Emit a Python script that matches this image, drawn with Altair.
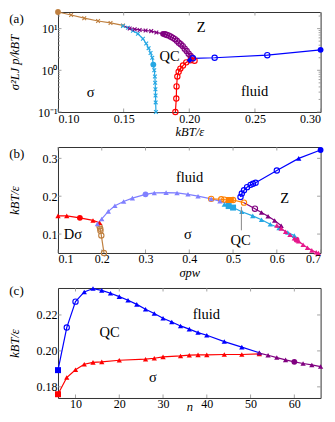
import altair as alt
import pandas as pd

FONT = "Liberation Serif"

# ---------------- panel (a) ----------------
a_brown_x = [0.100, 0.110, 0.120, 0.1305, 0.140, 0.1495]
a_brown_y = [25.0, 21.2, 17.8, 15.2, 13.7, 11.9]
a_brown_m = ["fc", "x", "x", "x", "x", "x"]

a_cyan_x = [0.1495, 0.1533, 0.1571, 0.1609, 0.1647, 0.1672, 0.1690, 0.1705, 0.1718,
            0.1726, 0.1733, 0.1738, 0.1740, 0.1742, 0.1743, 0.1744, 0.1746]
a_cyan_y = [11.5, 10.5, 8.9, 7.5, 5.7, 4.4, 3.4, 2.6, 2.0, 1.37, 1.0, 0.71, 0.5, 0.35, 0.25, 0.17, 0.1]
a_cyan_m = ["x", "x", "x", "x", "x", "x", "x", "x", "x", "fc", "x", "x", "x", "x", "x", "x", "x"]

a_purple_x = [0.1495, 0.1546, 0.1584, 0.1622, 0.1667, 0.1710, 0.1749, 0.1800, 0.1815, 0.1830,
              0.1845, 0.1860, 0.1875, 0.1890, 0.1905, 0.1920, 0.1935, 0.1950, 0.1965, 0.1980,
              0.1995, 0.2010, 0.2020]
a_purple_y = [11.9, 10.0, 9.7, 9.3, 9.0, 8.7, 8.1, 7.5, 7.3, 7.0, 6.8, 6.4, 6.0, 5.6, 5.1, 4.6,
              4.2, 3.8, 3.3, 2.9, 2.5, 2.2, 2.0]
a_purple_m = ["none", "x", "x", "x", "x", "x", "x", "fc", "oc", "oc", "oc", "oc", "oc", "oc", "oc",
              "oc", "oc", "oc", "oc", "oc", "oc", "oc", "oc"]

a_red_x = [0.1894, 0.1901, 0.1903, 0.1909, 0.1919, 0.1932, 0.1952, 0.1977, 0.2010, 0.2040]
a_red_y = [0.1, 0.21, 0.41, 0.71, 0.92, 1.1, 1.3, 1.55, 1.74, 1.7]
a_red_m = ["oc"] * 10

a_blue_x = [0.2003, 0.2028, 0.2193, 0.2594, 0.300]
a_blue_y = [1.75, 1.94, 2.0, 2.3, 3.1]
a_blue_m = ["fd", "oc", "oc", "oc", "fc"]

a_text = ["Z", "QC", "σ", "fluid"]
a_text_x = [0.209, 0.185, 0.1248, 0.2498]
a_text_y = [10.5, 2.1, 0.285, 0.295]

a_xticks = [0.10, 0.15, 0.20, 0.25, 0.30]
a_yticks = [0.1, 1, 10]
a_yminor = [0.2, 0.3, 0.4, 0.5, 0.6, 0.7, 0.8, 0.9, 2, 3, 4, 5, 6, 7, 8, 9, 20]

# ---------------- panel (b) ----------------
b_red_x = [0.10, 0.12, 0.15, 0.18, 0.195]
b_red_y = [0.148, 0.148, 0.143, 0.136, 0.130]
b_red_m = ["t", "t", "fc", "t", "t"]

b_brown_x = [0.193, 0.195, 0.1966, 0.197, 0.199, 0.205]
b_brown_y = [0.127, 0.120, 0.114, 0.1086, 0.0963, 0.050]
b_brown_m = ["none", "oc", "oc", "oc", "oc", "oc"]

b_peri_x = [0.19, 0.20, 0.215, 0.23, 0.25, 0.27, 0.30, 0.32, 0.347, 0.372, 0.397, 0.42, 0.45, 0.47, 0.49]
b_peri_y = [0.127, 0.140, 0.160, 0.175, 0.186, 0.195, 0.205, 0.2086, 0.2094, 0.2086, 0.205, 0.200,
            0.193, 0.187, 0.180]
b_peri_m = ["t", "t", "t", "t", "t", "t", "fc", "t", "t", "t", "t", "t", "t", "t", "t"]

b_orange_x = [0.45, 0.473, 0.48, 0.49, 0.495, 0.50, 0.525]
b_orange_y = [0.193, 0.192, 0.191, 0.190, 0.190, 0.190, 0.183]
b_orange_m = ["oc", "oc", "oc", "fs", "fs", "oc", "oc"]

b_cyan_x = [0.48, 0.49, 0.50, 0.52, 0.545, 0.565, 0.585, 0.605, 0.625, 0.64]
b_cyan_y = [0.178, 0.174, 0.170, 0.159, 0.148, 0.138, 0.126, 0.116, 0.104, 0.096]
b_cyan_m = ["t", "fs", "fs", "t", "t", "t", "t", "t", "t", "t"]

b_blue_x = [0.517, 0.52, 0.525, 0.532, 0.54, 0.5455, 0.5515, 0.60, 0.65, 0.70]
b_blue_y = [0.198, 0.207, 0.2157, 0.224, 0.230, 0.233, 0.2355, 0.268, 0.300, 0.322]
b_blue_m = ["oc", "oc", "oc", "oc", "oc", "oc", "oc", "oc", "t", "fc"]

b_purple_x = [0.525, 0.55, 0.565, 0.58, 0.595, 0.61]
b_purple_y = [0.183, 0.167, 0.157, 0.147, 0.136, 0.122]
b_purple_m = ["none", "oc", "t", "t", "t", "t"]

b_magenta_x = [0.60, 0.61, 0.62, 0.63, 0.64, 0.645, 0.65, 0.66, 0.67, 0.68, 0.69, 0.695]
b_magenta_y = [0.123, 0.115, 0.106, 0.098, 0.089, 0.085, 0.081, 0.072, 0.064, 0.057, 0.052, 0.050]
b_magenta_m = ["t", "t", "t", "t", "t", "fc", "t", "t", "t", "t", "t", "t"]

b_text = ["fluid", "Z", "Dσ", "σ", "QC"]
b_text_x = [0.4007, 0.6177, 0.134, 0.397, 0.517]
b_text_y = [0.2478, 0.192, 0.0964, 0.098, 0.083]
b_pointer_x = [0.519]
b_pointer_y = [0.172]
b_pointer_y2 = [0.110]

b_xticks = [0.1, 0.2, 0.3, 0.4, 0.5, 0.6, 0.7]
b_yticks = [0.1, 0.2, 0.3]

# ---------------- panel (c) ----------------
c_blue_x = [6, 8, 10, 12, 14, 16, 18, 20, 22, 24, 26, 28, 30, 32, 34, 36, 38, 40, 44, 48, 52]
c_blue_y = [0.1893, 0.213, 0.2274, 0.2328, 0.2347, 0.2337, 0.2321, 0.2302, 0.2282, 0.2259, 0.2232,
            0.2208, 0.2182, 0.2161, 0.2139, 0.2121, 0.2102, 0.2087, 0.2052, 0.2021, 0.1990]
c_blue_m = ["fs", "oc", "oc"] + ["t"] * 18

c_red_x = [6, 8, 10, 12, 14, 16, 20, 26, 28, 30, 34, 36, 38, 40, 44, 48, 52]
c_red_y = [0.1759, 0.1852, 0.1895, 0.1926, 0.1936, 0.1939, 0.1948, 0.1954, 0.1959, 0.1967, 0.1972,
           0.1976, 0.1978, 0.1978, 0.1980, 0.1980, 0.1983]
c_red_m = ["fs"] + ["t"] * 16

c_purple_x = [52, 54, 56, 58, 60, 62, 64, 66]
c_purple_y = [0.1988, 0.1976, 0.1963, 0.1950, 0.1939, 0.1930, 0.1922, 0.1913]
c_purple_m = ["t", "t", "t", "t", "fc", "t", "t", "t"]

c_text = ["QC", "fluid", "σ"]
c_text_x = [17.8, 39.9, 27.7]
c_text_y = [0.2102, 0.2200, 0.1847]

c_xticks = [10, 20, 30, 40, 50, 60]
c_yticks = [0.18, 0.20, 0.22]

panel_tags = ["(a)", "(b)", "(c)"]

series_names = ["brown", "cyan", "purple", "red", "blue", "peri", "orange", "magenta"]
series_colors = ["#bf8040", "#25a7e3", "#800080", "#ff0000", "#0000ff", "#8080ff", "#ff8000", "#e6198c"]
COLOR = alt.Scale(domain=series_names, range=series_colors)
TICK_COLOR = "#8c8c8c"


def build(series):
    rows = []
    for name, xs, ys, ms in series:
        for i, (x, y, m) in enumerate(zip(xs, ys, ms)):
            rows.append({"s": name, "x": x, "y": y, "m": m, "i": i})
    return pd.DataFrame(rows)


XPATH = "M-1,-1L1,1M-1,1L1,-1"
MARKS = {
    "oc": dict(shape="circle", filled=False, size=28, strokeWidth=1.1, opacity=1),
    "fc": dict(shape="circle", filled=True, size=34, opacity=1),
    "t": dict(shape="triangle-up", filled=True, size=28, opacity=1),
    "x": dict(shape=XPATH, filled=False, size=14, strokeWidth=1.1, opacity=1),
    "fs": dict(shape="square", filled=True, size=36, opacity=1),
    "fd": dict(shape="diamond", filled=True, size=36, opacity=1),
}


def tick_layers(X, Y, xt, yt, w, h, ymin=None):
    out = []
    xd = pd.DataFrame({"x": xt})
    yd = pd.DataFrame({"y": yt})
    rule = dict(color=TICK_COLOR, strokeWidth=0.8)
    out.append(alt.Chart(xd).mark_rule(**rule).encode(x=X, y=alt.value(h), y2=alt.value(h - 3.5)))
    out.append(alt.Chart(xd).mark_rule(**rule).encode(x=X, y=alt.value(0), y2=alt.value(3.5)))
    out.append(alt.Chart(yd).mark_rule(**rule).encode(y=Y, x=alt.value(0), x2=alt.value(3.5)))
    out.append(alt.Chart(yd).mark_rule(**rule).encode(y=Y, x=alt.value(w), x2=alt.value(w - 3.5)))
    if ymin is not None:
        md = pd.DataFrame({"y": ymin})
        out.append(alt.Chart(md).mark_rule(**rule).encode(y=Y, x=alt.value(0), x2=alt.value(2)))
        out.append(alt.Chart(md).mark_rule(**rule).encode(y=Y, x=alt.value(w), x2=alt.value(w - 2)))
    return out


def panel(df, txt, xs, ys, xaxis, yaxis, tag, tag_y, w, h, xt, yt, ymin=None, extra=None):
    X = alt.X("x:Q", scale=xs, axis=xaxis)
    Y = alt.Y("y:Q", scale=ys, axis=yaxis)
    layers = tick_layers(X, Y, xt, yt, w, h, ymin)
    base = alt.Chart(df).encode(x=X, y=Y, color=alt.Color("s:N", scale=COLOR, legend=None))
    layers.append(base.mark_line(strokeWidth=1.2).encode(detail="s:N", order="i:Q"))
    for m, kw in MARKS.items():
        layers.append(base.transform_filter(alt.datum.m == m).mark_point(**kw))
    if extra is not None:
        layers.append(extra(X, Y))
    layers.append(
        alt.Chart(txt).mark_text(font=FONT, fontSize=14.5, color="black").encode(x=X, y=Y, text="t:N")
    )
    layers.append(
        alt.Chart(pd.DataFrame({"t": [tag]})).mark_text(
            font=FONT, fontSize=13, color="black", align="left", baseline="middle"
        ).encode(x=alt.value(-48.7), y=alt.value(tag_y), text="t:N")
    )
    return alt.layer(*layers).properties(width=w, height=h)


def xax(title, values, fmt, ty):
    return alt.Axis(title=title, values=values, format=fmt, titleY=ty, titleBaseline="alphabetic")


def yax(title, values, fmt=None, label_expr=None, h=100):
    kw = dict(title=title, values=values, titleX=-36, titleY=h / 2, titleAngle=-90,
              titleBaseline="bottom", titleAlign="center")
    if fmt:
        kw["format"] = fmt
    if label_expr:
        kw["labelExpr"] = label_expr
    return alt.Axis(**kw)


W = 262.6
HA, HB, HC = 100, 106, 110

# panel a
dfa = build([("brown", a_brown_x, a_brown_y, a_brown_m), ("cyan", a_cyan_x, a_cyan_y, a_cyan_m),
             ("purple", a_purple_x, a_purple_y, a_purple_m), ("red", a_red_x, a_red_y, a_red_m),
             ("blue", a_blue_x, a_blue_y, a_blue_m)])
txa = pd.DataFrame({"t": a_text, "x": a_text_x, "y": a_text_y})
pa = panel(
    dfa, txa,
    alt.Scale(domain=[0.1, 0.3], nice=False, zero=False),
    alt.Scale(type="log", domain=[0.1, 25], nice=False),
    xax("kBT/ε", a_xticks, ".2f", 23),
    yax("σ²LJ p/kBT", a_yticks,
        label_expr="datum.value < 0.5 ? '10⁻¹' : (datum.value < 5 ? '10⁰' : '10¹')", h=HA),
    panel_tags[0], 7, W, HA, a_xticks, a_yticks, ymin=a_yminor,
)

# panel b
dfb = build([("red", b_red_x, b_red_y, b_red_m), ("brown", b_brown_x, b_brown_y, b_brown_m),
             ("peri", b_peri_x, b_peri_y, b_peri_m), ("cyan", b_cyan_x, b_cyan_y, b_cyan_m),
             ("orange", b_orange_x, b_orange_y, b_orange_m),
             ("blue", b_blue_x, b_blue_y, b_blue_m), ("purple", b_purple_x, b_purple_y, b_purple_m),
             ("magenta", b_magenta_x, b_magenta_y, b_magenta_m)])
txb = pd.DataFrame({"t": b_text, "x": b_text_x, "y": b_text_y})
ptr = pd.DataFrame({"x": b_pointer_x, "y": b_pointer_y, "y2": b_pointer_y2})


def pointer(X, Y):
    return alt.Chart(ptr).mark_rule(color="#888888", strokeWidth=1).encode(x=X, y=Y, y2="y2:Q")


pb = panel(
    dfb, txb,
    alt.Scale(domain=[0.1, 0.7], nice=False, zero=False),
    alt.Scale(domain=[0.05, 0.33], nice=False, zero=False),
    xax("σpw", b_xticks, ".1f", 24),
    yax("kBT/ε", b_yticks, fmt=".1f", h=HB),
    panel_tags[1], 7, W, HB, b_xticks, b_yticks, extra=pointer,
)

# panel c
dfc = build([("blue", c_blue_x, c_blue_y, c_blue_m), ("red", c_red_x, c_red_y, c_red_m),
             ("purple", c_purple_x, c_purple_y, c_purple_m)])
txc = pd.DataFrame({"t": c_text, "x": c_text_x, "y": c_text_y})
pc = panel(
    dfc, txc,
    alt.Scale(domain=[6, 66], nice=False, zero=False),
    alt.Scale(domain=[0.1738, 0.235], nice=False, zero=False),
    xax("n", c_xticks, "d", 13),
    yax("kBT/ε", c_yticks, fmt=".2f", h=HC),
    panel_tags[2], 3, W, HC, c_xticks, c_yticks,
)

chart = alt.vconcat(pa, pb, pc, spacing=35, bounds="flush", padding=0).configure_view(
    stroke="#333333", strokeWidth=1
).configure_axis(
    domain=False, ticks=False, grid=False, labelFont=FONT, titleFont=FONT, labelFontSize=12,
    titleFontSize=12.5, titleFontWeight="normal", titleFontStyle="italic", labelColor="black",
    titleColor="black", labelPadding=1,
)

chart.save("out.html", embed_options={"renderer": "svg", "actions": False})
